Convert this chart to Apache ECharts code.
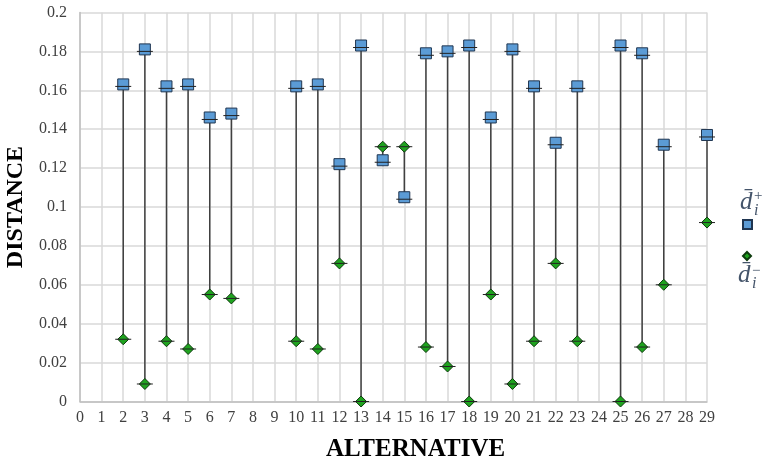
<!DOCTYPE html>
<html>
<head>
<meta charset="utf-8">
<script src="https://cdn.jsdelivr.net/npm/echarts@6/dist/echarts.min.js"></script>
<style>
  html, body { margin: 0; padding: 0; background: #fff; }
  #main { width: 763px; height: 461px; }
</style>
</head>
<body>
<div id="main"></div>
<script>
var alternatives = [2, 3, 4, 5, 6, 7, 10, 11, 12, 13, 14, 15, 16, 17, 18, 19, 20, 21, 22, 23, 25, 26, 27, 29];
var dPlus  = [0.162, 0.180, 0.161, 0.162, 0.145, 0.147, 0.161, 0.162, 0.121, 0.182, 0.123, 0.104,
              0.178, 0.179, 0.182, 0.145, 0.180, 0.161, 0.132, 0.161, 0.182, 0.178, 0.131, 0.136];
var dMinus = [0.032, 0.009, 0.031, 0.027, 0.055, 0.053, 0.031, 0.027, 0.071, 0.000, 0.131, 0.131,
              0.028, 0.018, 0.000, 0.055, 0.009, 0.031, 0.071, 0.031, 0.000, 0.028, 0.060, 0.092];

var serif = '"Liberation Serif", "DejaVu Serif", serif';
var legendColor = '#44546a';

var plusData = [], minusData = [], rangeData = [];
for (var i = 0; i < alternatives.length; i++) {
  plusData.push([alternatives[i], dPlus[i]]);
  minusData.push([alternatives[i], dMinus[i]]);
  rangeData.push([alternatives[i], dPlus[i], dMinus[i]]);
}

function renderLine(params, api) {
  var a = api.coord([api.value(0), api.value(1)]);
  var b = api.coord([api.value(0), api.value(2)]);
  return {
    type: 'line',
    shape: { x1: a[0], y1: a[1], x2: b[0], y2: b[1] },
    style: { stroke: '#404040', lineWidth: 1.5 }
  };
}

function renderDash(params, api) {
  var a = api.coord([api.value(0), api.value(1)]);
  var b = api.coord([api.value(0), api.value(2)]);
  var h = 8;
  return {
    type: 'group',
    children: [
      { type: 'line', shape: { x1: a[0] - h, y1: a[1], x2: a[0] + h, y2: a[1] },
        style: { stroke: '#222', lineWidth: 1 } },
      { type: 'line', shape: { x1: b[0] - h, y1: b[1], x2: b[0] + h, y2: b[1] },
        style: { stroke: '#222', lineWidth: 1 } }
    ]
  };
}

function legendText(x, y, sign) {
  return {
    type: 'group', left: x, top: y,
    children: [
      { type: 'text', x: 0, y: 0,
        style: { text: 'd\u0304', font: 'italic 25px ' + serif, fill: legendColor } },
      { type: 'text', x: 14, y: sign === '+' ? -1 : 1,
        style: { text: sign, font: '15px ' + serif, fill: legendColor } },
      { type: 'text', x: 14, y: 13,
        style: { text: 'i', font: 'italic 16px ' + serif, fill: legendColor } }
    ]
  };
}

var chart = echarts.init(document.getElementById('main'));
chart.setOption({
  animation: false,
  backgroundColor: '#fff',
  grid: { left: 80, right: 56, top: 12.5, bottom: 59.5, outerBoundsMode: 'none', containLabel: false },
  legend: [
    { data: ['d+'], left: 737, top: 214, itemWidth: 9, itemHeight: 9,
      formatter: function () { return ''; }, selectedMode: false },
    { data: ['d-'], left: 737, top: 246, itemWidth: 8, itemHeight: 8,
      formatter: function () { return ''; }, selectedMode: false }
  ],
  graphic: [
    legendText(740, 189, '+'),
    legendText(738, 263, '\u2212')
  ],
  xAxis: {
    type: 'value', min: 0, max: 29, interval: 1,
    name: 'ALTERNATIVE', nameLocation: 'middle', nameGap: 36,
    nameTextStyle: { fontFamily: serif, fontWeight: 'bold', fontSize: 25, color: '#000',
                     padding: [0, 0, 0, 44] },
    axisLine: { lineStyle: { color: '#bfbfbf', width: 1.5 } },
    axisTick: { show: false },
    axisLabel: { fontFamily: serif, fontSize: 16, color: '#404040', margin: 8 },
    splitLine: { lineStyle: { color: '#d9d9d9', width: 1.5 } }
  },
  yAxis: {
    type: 'value', min: 0, max: 0.2, interval: 0.02,
    name: 'DISTANCE', nameLocation: 'middle', nameGap: 51, nameRotate: 90,
    nameTextStyle: { fontFamily: serif, fontWeight: 'bold', fontSize: 24, color: '#000' },
    axisLine: { show: true, lineStyle: { color: '#bfbfbf', width: 1.5 } },
    axisTick: { show: false },
    axisLabel: { fontFamily: serif, fontSize: 16, color: '#404040', margin: 13 },
    splitLine: { lineStyle: { color: '#d9d9d9', width: 1.5 } }
  },
  series: [
    { type: 'custom', name: 'range', data: rangeData, renderItem: renderLine,
      encode: { x: 0, y: [1, 2] }, z: 2, silent: true },
    { type: 'scatter', name: 'd+', data: plusData, symbol: 'rect', symbolSize: 11,
      symbolOffset: [0, -2],
      itemStyle: { color: '#5b9bd5', borderColor: '#1f3550', borderWidth: 1, opacity: 1 }, z: 3 },
    { type: 'scatter', name: 'd-', data: minusData, symbol: 'diamond', symbolSize: 11,
      itemStyle: { color: '#1fa31f', borderColor: '#0d3b0d', borderWidth: 1, opacity: 1 }, z: 3 },
    { type: 'custom', name: 'dash', data: rangeData, renderItem: renderDash,
      encode: { x: 0, y: [1, 2] }, z: 4, silent: true }
  ]
});
</script>
</body>
</html>
